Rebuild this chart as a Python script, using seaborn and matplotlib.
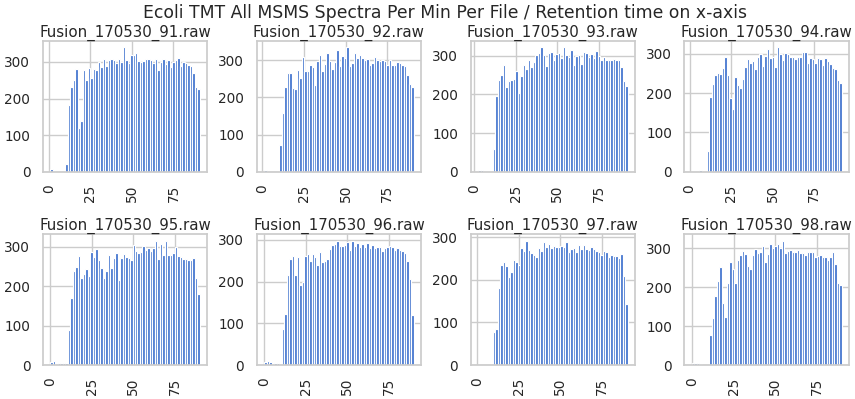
import numpy as np
import pandas as pd
import matplotlib
matplotlib.use("Agg")
import matplotlib.pyplot as plt
import seaborn as sns

# MSMS spectra counted per 1.5 min retention-time bin, one list per raw file
files = ["Fusion_170530_91.raw", "Fusion_170530_92.raw", "Fusion_170530_93.raw",
         "Fusion_170530_94.raw", "Fusion_170530_95.raw", "Fusion_170530_96.raw",
         "Fusion_170530_97.raw", "Fusion_170530_98.raw"]

# left edge (min) of the first bin in each file, bin width in min
rt_start = [0.85, 1.0, 2.45, 1.45, 0.0, 0.0, 0.45, 0.0]
bin_width = 1.5

f91 = [7, 0, 0, 0, 0, 0, 20, 182, 232, 251, 281, 120, 139, 277, 251, 284, 255, 281, 278, 299,
       287, 309, 288, 305, 308, 304, 297, 309, 299, 340, 305, 296, 318, 318, 324, 302, 299, 302, 309, 309,
       304, 298, 309, 279, 299, 309, 294, 304, 287, 300, 305, 310, 288, 301, 297, 293, 290, 270, 232, 226]
f92 = [5, 0, 0, 0, 0, 0, 72, 157, 228, 266, 266, 225, 222, 275, 253, 310, 270, 272, 287, 282,
       233, 297, 313, 272, 290, 320, 297, 276, 295, 327, 285, 312, 305, 335, 285, 293, 320, 307, 313, 307,
       300, 303, 287, 293, 310, 302, 298, 300, 298, 288, 300, 288, 288, 296, 292, 287, 286, 261, 236, 228]
f93 = [5, 5, 0, 0, 0, 0, 60, 197, 238, 250, 277, 219, 235, 238, 240, 262, 205, 248, 277, 265,
       290, 270, 285, 303, 307, 322, 303, 274, 307, 310, 290, 305, 307, 295, 322, 303, 297, 316, 277, 300,
       303, 278, 310, 307, 296, 305, 295, 312, 300, 290, 298, 290, 290, 290, 292, 290, 288, 272, 236, 222]
f94 = [0, 0, 0, 5, 0, 0, 52, 190, 224, 247, 252, 250, 265, 293, 247, 188, 160, 242, 221, 213,
       237, 268, 287, 277, 283, 262, 293, 300, 270, 295, 312, 290, 292, 268, 317, 300, 284, 302, 300, 292,
       292, 288, 292, 293, 305, 305, 276, 290, 287, 276, 290, 288, 273, 290, 282, 274, 265, 262, 234, 226]
f95 = [7, 11, 0, 5, 5, 5, 5, 90, 170, 238, 250, 277, 222, 232, 245, 227, 288, 275, 295, 266,
       246, 220, 240, 280, 246, 272, 285, 215, 272, 282, 275, 272, 266, 304, 290, 285, 287, 303, 293, 298,
       290, 297, 316, 270, 307, 280, 314, 280, 280, 285, 300, 277, 274, 270, 270, 266, 268, 272, 222, 181]
f96 = [8, 10, 7, 0, 5, 5, 0, 87, 123, 215, 253, 262, 216, 258, 193, 200, 261, 265, 250, 265,
       260, 240, 272, 248, 250, 255, 278, 287, 290, 298, 286, 286, 287, 295, 275, 297, 285, 292, 283, 290,
       284, 292, 280, 288, 280, 282, 282, 273, 280, 282, 285, 282, 276, 280, 275, 273, 268, 250, 205, 120]
f97 = [1, 0, 0, 0, 0, 0, 78, 85, 182, 234, 241, 233, 206, 218, 247, 243, 236, 275, 268, 292,
       270, 262, 258, 253, 275, 268, 288, 277, 284, 275, 280, 277, 278, 280, 277, 288, 265, 272, 275, 265,
       283, 272, 282, 272, 270, 277, 273, 268, 265, 258, 267, 265, 253, 258, 255, 255, 252, 260, 208, 143]
f98 = [5, 5, 5, 4, 0, 0, 0, 77, 120, 178, 217, 252, 160, 124, 210, 265, 247, 210, 270, 282,
       293, 285, 256, 247, 282, 298, 288, 292, 306, 264, 285, 312, 302, 306, 311, 300, 320, 288, 293, 297,
       290, 290, 295, 288, 288, 283, 290, 290, 292, 277, 280, 282, 277, 277, 270, 278, 290, 260, 210, 205]
counts = [f91, f92, f93, f94, f95, f96, f97, f98]

sns.set_theme(style="whitegrid")
plt.rcParams['font.family'] = ['DejaVu Sans']
bar_color = sns.color_palette("muted")[0]

fig, axes = plt.subplots(2, 4, figsize=(8.55, 3.99), dpi=100)
fig.subplots_adjust(left=0.050, right=0.993, top=0.897, bottom=0.085, wspace=0.30, hspace=0.48)

for ax, name, start, c in zip(axes.flat, files, rt_start, counts):
    n = len(c)
    edges = [start + bin_width * i for i in range(n + 1)]
    df = pd.DataFrame({"rt": [e + bin_width / 2 for e in edges[:-1]], "spectra": c})
    sns.histplot(data=df, x="rt", weights="spectra", bins=edges, ax=ax, color=bar_color,
                 alpha=1, edgecolor="white", linewidth=0.85)
    ax.set_title(name, fontsize=10.8, pad=3, color="#262626")
    ax.set_xlabel("")
    ax.set_ylabel("")
    ax.set_xticks([0, 25, 50, 75])
    ax.set_yticks([0, 100, 200, 300])
    ax.tick_params(axis="x", labelrotation=90, labelsize=9.8, pad=3)
    ax.tick_params(axis="y", labelsize=9.8, pad=3)

fig.suptitle("Ecoli TMT All MSMS Spectra Per Min Per File / Retention time on x-axis",
             fontsize=12.4, x=0.52, y=0.99, color="#262626")

fig.savefig("out.png", dpi=100)
